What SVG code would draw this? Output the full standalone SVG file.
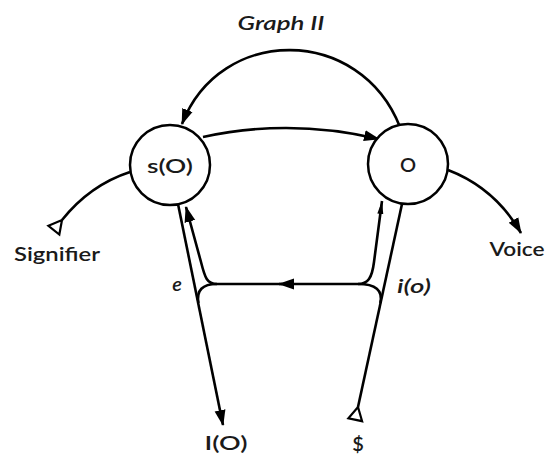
<svg xmlns="http://www.w3.org/2000/svg" width="546" height="457" viewBox="0 0 546 457">
<defs>
<marker id="fa" markerUnits="userSpaceOnUse" markerWidth="20" markerHeight="14" viewBox="0 -7 20 14" refX="15" refY="0" orient="auto"><path d="M0,-5.5 L16,0 L0,5.5 Z" fill="#000"/></marker>
<marker id="fs" markerUnits="userSpaceOnUse" markerWidth="20" markerHeight="10" viewBox="0 -5 20 10" refX="13" refY="0" orient="auto"><path d="M0,-3 L13,0 L0,3 Z" fill="#000"/></marker>
<marker id="op" markerUnits="userSpaceOnUse" markerWidth="20" markerHeight="20" viewBox="-2 -10 20 20" refX="0" refY="0" orient="auto"><path d="M0,0 L13,-7 L13,7 Z" fill="#fff" stroke="#000" stroke-width="2.2"/></marker>
</defs>
<style>
.ln{fill:none;stroke:#000;stroke-width:2.6}
.nd{fill:#fff;stroke:#000;stroke-width:2.5}
text{font-family:Lato,"Open Sans","Liberation Sans",sans-serif;fill:#1a1a1a;text-anchor:middle;font-weight:600}
.lb{font-size:20px}
.it{font-style:italic}
</style>
<text class="lb it" x="281" y="30" textLength="87" lengthAdjust="spacingAndGlyphs">Graph II</text>
<g id="connectors">
<path class="ln" d="M400,127 C360,25 220,25 182,124" marker-end="url(#fa)"/>
<path class="ln" d="M203,137 Q290,118 379,139" marker-end="url(#fa)"/>
<path class="ln" d="M130,172 Q90,185 62,220" marker-end="url(#op)"/>
<path class="ln" d="M448,170 Q495,188 521,233" marker-end="url(#fa)"/>
<path class="ln" d="M178,204 L223,425" marker-end="url(#fa)"/>
<path class="ln" d="M402,204 L358,407" marker-end="url(#op)"/>
<path class="ln" d="M217,284 C207,284 205,278 201,262 L186,207" marker-end="url(#fa)"/>
<path class="ln" d="M217,284 Q195,284 198.5,303"/>
<path class="ln" d="M358,284 C368,284 372,278 374,262 L382,201" marker-end="url(#fs)"/>
<path class="ln" d="M358,284 Q384.5,284 380.3,303"/>
<path class="ln" d="M358,284 L279,284" marker-end="url(#fa)"/>
<path class="ln" d="M282,284 L217,284"/>
</g>
<g id="node-sO">
<circle class="nd" cx="170" cy="165" r="40"/>
<text class="lb" x="170" y="173" font-size="21" textLength="46" lengthAdjust="spacingAndGlyphs">s(O)</text>
</g>
<g id="node-O">
<circle class="nd" cx="408" cy="164" r="40"/>
<text class="lb" x="408" y="172" font-size="22">O</text>
</g>
<g id="label-signifier"><text class="lb" x="57" y="261" textLength="86" lengthAdjust="spacingAndGlyphs">Signifier</text></g>
<g id="label-voice"><text class="lb" x="517" y="256" textLength="55" lengthAdjust="spacingAndGlyphs">Voice</text></g>
<g id="label-IO"><text class="lb" x="226" y="450" textLength="43" lengthAdjust="spacingAndGlyphs">I(O)</text></g>
<g id="label-S"><text class="lb" x="358" y="451">$</text></g>
<g id="label-e"><text class="lb it" x="177" y="291" font-size="21">e</text></g>
<g id="label-io"><text class="lb it" x="414" y="293" textLength="34" lengthAdjust="spacingAndGlyphs">i(o)</text></g>
</svg>
